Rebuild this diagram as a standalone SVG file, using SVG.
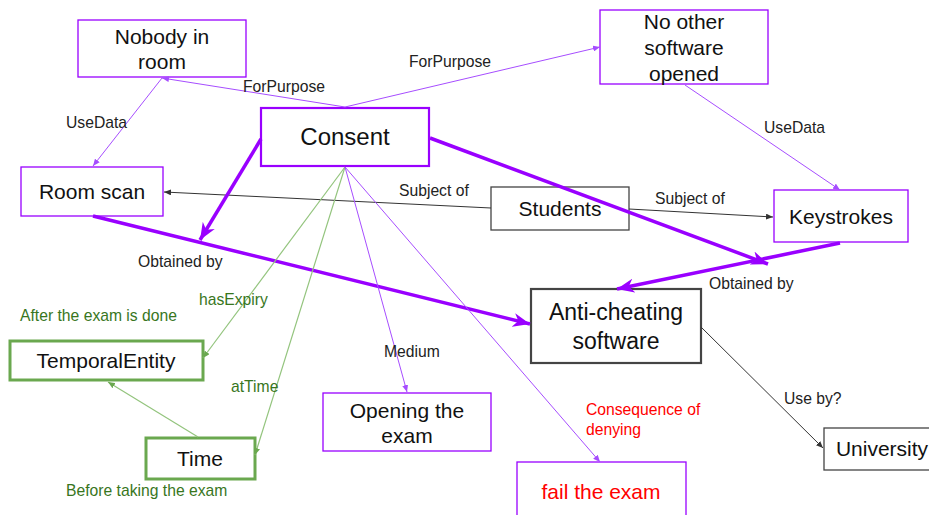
<svg xmlns="http://www.w3.org/2000/svg" width="929" height="515" viewBox="0 0 929 515">
<style>
text{font-family:"Liberation Sans",Arial,sans-serif;}
.box{fill:#fff;stroke:#9900ff;stroke-width:1.3;}
.gbox{fill:#fff;stroke:#6aa84f;stroke-width:3;}
.kbox{fill:#fff;stroke:#444;stroke-width:1.3;}
.nt{font-size:21px;fill:#111;text-anchor:middle;}
.lbl{font-size:15.7px;fill:#222;}
.glbl{font-size:15.7px;fill:#38761d;}
.rlbl{font-size:15.7px;fill:#ff0000;}
.pthin{stroke:#a64dff;stroke-width:1;fill:none;}
.pthick{stroke:#9900ff;stroke-width:3.5;fill:none;}
.gthin{stroke:#93c47d;stroke-width:1.2;fill:none;}
.kthin{stroke:#333;stroke-width:1;fill:none;}
</style>
<defs>
<marker id="ap" markerUnits="userSpaceOnUse" markerWidth="8" markerHeight="6" refX="7" refY="3" orient="auto"><path d="M0,0 L7,3 L0,6 z" fill="#a64dff"/></marker>
<marker id="ag" markerUnits="userSpaceOnUse" markerWidth="8" markerHeight="6" refX="7" refY="3" orient="auto"><path d="M0,0 L7,3 L0,6 z" fill="#6aa84f"/></marker>
<marker id="ak" markerUnits="userSpaceOnUse" markerWidth="8" markerHeight="6" refX="7" refY="3" orient="auto"><path d="M0,0 L7,3 L0,6 z" fill="#333"/></marker>
<marker id="aP" markerUnits="userSpaceOnUse" markerWidth="18" markerHeight="14" refX="17" refY="7" orient="auto"><path d="M0,0 L17,7 L0,14 L5,7 z" fill="#9900ff"/></marker>
</defs>
<rect width="929" height="515" fill="#fff"/>
<g id="nobody"><rect class="box" x="78" y="20" width="168" height="57"/><text class="nt" x="162" y="44">Nobody in</text><text class="nt" x="162" y="69">room</text></g>
<g id="roomscan"><rect class="box" x="21" y="167" width="142" height="49"/><text class="nt" x="92" y="199">Room scan</text></g>
<g id="consent"><rect class="box" style="stroke-width:2.2" x="261" y="108" width="168" height="58"/><text class="nt" style="font-size:24px" x="345" y="145">Consent</text></g>
<g id="noother"><rect class="box" x="600" y="10" width="168" height="74"/><text class="nt" x="684" y="29">No other</text><text class="nt" x="684" y="55">software</text><text class="nt" x="684" y="81">opened</text></g>
<g id="students"><rect class="kbox" x="491" y="187" width="138" height="43"/><text class="nt" x="560" y="216">Students</text></g>
<g id="keystrokes"><rect class="box" x="774" y="190" width="134" height="52"/><text class="nt" x="841" y="224">Keystrokes</text></g>
<g id="anticheating"><rect class="kbox" style="stroke-width:2.2" x="531" y="289" width="170" height="74"/><text class="nt" style="font-size:23px" x="616" y="320">Anti-cheating</text><text class="nt" style="font-size:23px" x="616" y="349">software</text></g>
<g id="temporalentity"><rect class="gbox" x="10" y="341" width="193" height="39"/><text class="nt" x="106" y="368">TemporalEntity</text></g>
<g id="time"><rect class="gbox" x="146" y="438" width="109" height="41"/><text class="nt" x="200" y="466">Time</text></g>
<g id="opening"><rect class="box" x="323" y="393" width="168" height="58"/><text class="nt" x="407" y="418">Opening the</text><text class="nt" x="407" y="443">exam</text></g>
<g id="fail"><rect class="box" x="517" y="462" width="169" height="70"/><text class="nt" style="fill:#ff0000" x="601" y="499">fail the exam</text></g>
<g id="university"><rect class="kbox" x="824" y="428" width="120" height="42"/><text class="nt" x="882" y="456">University</text></g>
<g id="connectors">
<line class="pthin" x1="162" y1="78" x2="93" y2="166" marker-end="url(#ap)"/>
<line class="pthin" x1="345" y1="107" x2="162" y2="78" marker-end="url(#ap)"/>
<line class="pthin" x1="345" y1="107" x2="600" y2="47" marker-end="url(#ap)"/>
<line class="pthin" x1="685" y1="85" x2="840" y2="190" marker-end="url(#ap)"/>
<line class="kthin" x1="491" y1="208" x2="164" y2="192" marker-end="url(#ak)"/>
<line class="kthin" x1="629" y1="209" x2="773" y2="217" marker-end="url(#ak)"/>
<line class="pthick" x1="261" y1="139" x2="200" y2="240" marker-end="url(#aP)"/>
<line class="pthick" x1="93" y1="216" x2="530" y2="324" marker-end="url(#aP)"/>
<line class="pthick" x1="430" y1="138" x2="768" y2="264" marker-end="url(#aP)"/>
<line class="pthick" x1="840" y1="243" x2="617" y2="289" marker-end="url(#aP)"/>
<line class="kthin" x1="701" y1="327" x2="823" y2="448" marker-end="url(#ak)"/>
<line class="gthin" x1="345" y1="167" x2="203" y2="358" marker-end="url(#ag)"/>
<line class="gthin" x1="345" y1="167" x2="255" y2="455" marker-end="url(#ag)"/>
<line class="gthin" x1="198" y1="437" x2="108" y2="382" marker-end="url(#ag)"/>
<line class="pthin" x1="345" y1="167" x2="407" y2="392" marker-end="url(#ap)"/>
<line class="pthin" x1="345" y1="167" x2="600" y2="462" marker-end="url(#ap)"/>
</g>
<g id="labels">
<text class="lbl" x="243" y="92">ForPurpose</text>
<text class="lbl" x="66" y="128">UseData</text>
<text class="lbl" x="409" y="67">ForPurpose</text>
<text class="lbl" x="764" y="133">UseData</text>
<text class="lbl" x="399" y="196">Subject of</text>
<text class="lbl" x="655" y="204">Subject of</text>
<text class="lbl" x="138" y="267">Obtained by</text>
<text class="lbl" x="709" y="289">Obtained by</text>
<text class="glbl" x="199" y="305">hasExpiry</text>
<text class="glbl" x="20" y="321">After the exam is done</text>
<text class="glbl" x="231" y="392">atTime</text>
<text class="glbl" x="66" y="496">Before taking the exam</text>
<text class="lbl" x="384" y="357">Medium</text>
<text class="rlbl" x="586" y="415">Consequence of</text>
<text class="rlbl" x="586" y="435">denying</text>
<text class="lbl" x="784" y="404">Use by?</text>
</g>
</svg>
